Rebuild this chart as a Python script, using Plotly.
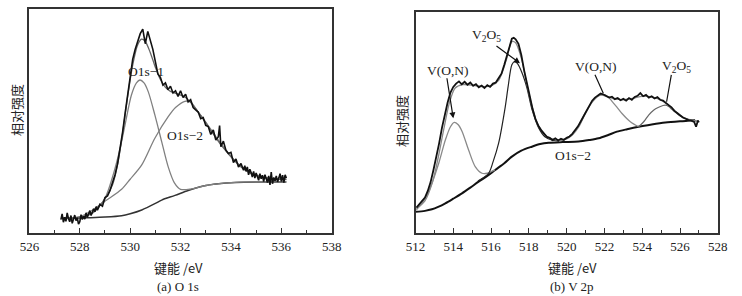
import plotly.graph_objects as go

# ---------------- Panel (a) O 1s ----------------
a_raw_ev = [527.25, 527.3, 527.35, 527.4, 527.45, 527.5, 527.55, 527.6, 527.65, 527.7, 527.75, 527.8, 527.85,
            527.9, 527.95, 528.0, 528.05, 528.1, 528.15, 528.2, 528.25, 528.3, 528.35, 528.4, 528.45, 528.5,
            528.55, 528.6, 528.65, 528.7,
            528.8, 528.9, 529.0, 529.1, 529.2, 529.3, 529.4, 529.5, 529.6, 529.7, 529.8, 529.9, 530.0,
            530.1, 530.2, 530.3, 530.4, 530.5, 530.6, 530.7, 530.8, 530.9, 531.0, 531.1, 531.2, 531.3, 531.4,
            531.5, 531.6, 531.7, 531.8, 531.9, 532.0, 532.1, 532.2, 532.3, 532.4, 532.5, 532.6, 532.7, 532.8,
            532.9, 533.0, 533.1, 533.2, 533.3, 533.4, 533.5, 533.55, 533.6, 533.7, 533.8, 533.9, 534.0, 534.1,
            534.2, 534.3, 534.4,
            534.5, 534.55, 534.6, 534.65, 534.7, 534.75, 534.8, 534.85, 534.9, 534.95, 535.0, 535.05, 535.1,
            535.15, 535.2, 535.25, 535.3, 535.35, 535.4, 535.45, 535.5, 535.55, 535.6, 535.65, 535.7, 535.75,
            535.8, 535.85, 535.9, 535.95, 536.0, 536.05, 536.1, 536.15, 536.2]
a_raw_int = [6.0, 8.5, 4.8, 7.0, 5.2, 9.0, 6.5, 5.0, 7.8, 4.3, 6.2, 8.0, 5.5,
             6.8, 4.0, 5.0, 8.2, 6.0, 7.5, 6.2, 9.0, 7.0, 8.5, 10.0, 7.8, 9.2,
             10.8, 9.5, 11.8, 10.2,
             12.8, 12.0, 15.8, 16.5, 19.0, 22.5, 26.0, 31.0, 37.5, 45.0, 53.5, 62.0, 70.0,
             77.5, 82.0, 85.5, 89.0, 91.0, 84.5, 90.0, 86.0, 82.0, 76.5, 71.0, 69.5, 66.0, 67.0,
             64.0, 65.5, 62.5, 63.5, 61.0, 63.5, 60.5, 62.0, 58.5, 59.5, 56.0, 55.0, 54.0, 51.0,
             51.5, 48.0, 47.5, 44.0, 46.0, 41.5, 43.0, 48.0, 38.5, 41.0, 37.0, 35.5, 36.0, 31.5,
             33.0, 29.5, 31.0,
             28.0, 30.0, 27.5, 29.5, 26.0, 28.5, 27.0, 25.0, 27.5, 24.5, 26.8, 25.0, 23.5,
             26.5, 24.2, 25.8, 23.0, 26.0, 24.5, 22.5, 25.5, 21.5, 27.2, 22.0, 24.8, 23.2,
             25.5, 22.8, 24.5, 26.5, 23.0, 25.8, 22.5, 26.0, 24.5]

a_fit_ev = [527.3, 528.0, 528.5, 529.0, 529.3, 529.5, 529.7, 529.9, 530.1, 530.3, 530.45, 530.6, 530.8,
            531.0, 531.2, 531.4, 531.6, 531.9, 532.2, 532.5, 532.8, 533.1, 533.4, 533.7, 534.0, 534.4,
            534.8, 535.2, 535.7, 536.2]
a_fit_int = [6.6, 7.0, 9.0, 15.2, 21.5, 30.5, 44.5, 61.0, 75.0, 84.0, 86.5, 85.5, 80.5,
             74.0, 68.5, 65.0, 63.2, 62.0, 60.5, 57.0, 52.5, 47.5, 42.5, 38.0, 34.0, 29.5,
             26.5, 25.0, 24.2, 24.0]

a_p1_ev = [527.3, 528.0, 528.5, 529.0, 529.3, 529.6, 529.8, 530.05, 530.25, 530.39, 530.55, 530.72, 530.98,
           531.25, 531.51, 531.75, 532.0, 532.4, 533.0, 534.0, 535.0, 536.2]
a_p1_int = [6.6, 7.0, 8.8, 15.5, 25.0, 37.8, 48.5, 61.6, 67.0, 68.3, 67.0, 63.0, 52.7,
            40.8, 29.5, 22.5, 19.5, 19.6, 21.2, 22.5, 22.8, 22.8]

a_p2_ev = [527.3, 528.0, 528.4, 529.07, 529.66, 530.0, 530.46, 530.98, 531.51, 531.8, 532.17, 532.4, 532.7,
           533.0, 533.4, 533.8, 534.2, 534.6, 535.0, 535.5, 536.2]
a_p2_int = [6.6, 7.3, 9.5, 14.7, 19.5, 24.0, 30.4, 42.3, 51.9, 56.0, 58.8, 58.5, 54.0,
            49.5, 43.0, 37.0, 31.8, 28.0, 26.0, 24.5, 23.8]

a_bg_ev = [527.3, 528.3, 529.0, 529.66, 530.0, 530.46, 531.0, 531.25, 531.78, 532.3, 532.9, 533.5, 534.2,
           535.0, 536.2]
a_bg_int = [6.5, 6.8, 7.1, 7.7, 8.6, 10.3, 13.2, 14.7, 16.8, 19.0, 21.0, 22.0, 22.6, 22.8, 22.8]

# ---------------- Panel (b) V 2p ----------------
b_raw_ev = [512.05, 512.2, 512.35, 512.5, 512.65, 512.8, 512.95, 513.1, 513.25, 513.4, 513.55, 513.7, 513.85,
            514.0, 514.15, 514.3, 514.45, 514.6, 514.75, 514.9, 515.05, 515.2, 515.35, 515.5, 515.65, 515.8,
            515.95, 516.1, 516.25, 516.4, 516.55, 516.7, 516.85, 517.0, 517.1, 517.2, 517.3, 517.45, 517.6,
            517.75, 517.9, 518.05, 518.2, 518.35, 518.5, 518.65, 518.8, 518.95, 519.1, 519.25, 519.4, 519.55,
            519.7, 519.85, 520.0, 520.15, 520.3, 520.45, 520.6, 520.75, 520.9, 521.05, 521.2, 521.35, 521.5,
            521.65, 521.8, 521.95, 522.1, 522.25, 522.4, 522.55, 522.7, 522.85, 523.0, 523.15, 523.3, 523.45,
            523.6, 523.75, 523.9, 524.05, 524.2, 524.35, 524.5, 524.65, 524.8, 524.95, 525.1, 525.25, 525.4,
            525.55, 525.7, 525.85, 526.0, 526.15, 526.3, 526.45, 526.6, 526.75, 526.85, 526.95, 527.0]
b_raw_int = [11.5, 13.0, 14.5, 16.0, 19.0, 23.0, 28.5, 34.0, 40.5, 47.5, 53.5, 59.0, 63.5,
             66.0, 67.5, 68.5, 67.2, 68.3, 67.0, 68.0, 66.5, 67.3, 65.8, 66.6, 65.5, 66.8,
             66.0, 67.5, 68.0, 69.8, 72.0, 76.0, 80.5, 85.0, 87.8, 88.2, 87.5, 85.5, 80.5,
             73.5, 67.5, 61.0, 56.0, 51.5, 48.5, 46.5, 44.8, 43.5, 43.0, 42.0, 42.8, 41.8,
             42.6, 42.0, 43.0, 43.6, 44.8, 46.5, 48.2, 50.5, 53.0, 55.5, 58.0, 59.8, 61.2,
             62.0, 63.0, 62.6, 62.0, 61.2, 61.6, 60.5, 61.0, 60.0, 60.6, 59.8, 61.0, 60.2,
             61.5, 62.0, 63.2, 61.8, 62.4, 61.2, 61.8, 60.8, 61.4, 60.2, 59.8, 59.0, 57.8,
             56.8, 55.2, 54.2, 53.0, 52.2, 51.6, 51.0, 50.8, 50.2, 48.0, 50.8, 50.0]

b_fit_ev = [512.05, 512.5, 512.9, 513.2, 513.5, 513.8, 514.1, 514.5, 515.0, 515.5, 516.0, 516.4, 516.8,
            517.1, 517.3, 517.6, 517.9, 518.2, 518.5, 518.9, 519.3, 519.8, 520.2, 520.6, 521.0, 521.4,
            521.8, 522.2, 522.6, 523.0, 523.5, 524.0, 524.5, 525.0, 525.5, 526.0, 526.5, 527.0]
b_fit_int = [11.0, 14.5, 23.0, 34.0, 47.0, 59.0, 65.5, 67.0, 66.8, 66.2, 66.5, 69.0, 78.0,
             86.5, 86.0, 79.0, 67.0, 56.0, 48.5, 44.0, 42.3, 42.3, 43.8, 48.0, 54.5, 59.8,
             62.3, 61.5, 60.5, 60.3, 60.8, 61.8, 61.5, 60.0, 57.0, 53.2, 51.0, 50.5]

b_von1_ev = [512.05, 512.34, 512.6, 512.87, 513.23, 513.58, 513.85, 514.05, 514.25, 514.46, 514.81, 515.16,
             515.52, 515.8, 516.2]
b_von1_int = [10.5, 13.4, 17.0, 22.5, 31.5, 42.0, 48.0, 50.0, 49.0, 46.0, 37.5, 30.0,
              27.0, 27.0, 28.5]

b_vo1_ev = [515.3, 515.87, 516.1, 516.4, 516.75, 516.9, 517.1, 517.25, 517.4, 517.63, 517.9, 518.16,
            518.52, 518.85, 519.2, 519.6]
b_vo1_int = [23.5, 27.0, 32.0, 40.6, 57.0, 66.0, 76.0, 77.5, 76.5, 72.5, 65.5, 56.0,
             47.5, 43.5, 42.0, 41.5]

b_von2_ev = [519.6, 520.0, 520.3, 520.63, 520.98, 521.34, 521.69, 521.95, 522.2, 522.4, 522.65, 522.93,
             523.37, 523.81]
b_von2_int = [41.5, 42.5, 44.3, 47.8, 53.8, 59.0, 62.0, 62.6, 61.5, 59.5, 57.0, 54.0, 50.3, 48.0]

b_vo2_ev = [523.81, 524.1, 524.34, 524.6, 524.87, 525.1, 525.22, 525.4, 525.57, 525.8, 526.01, 526.3,
            526.63, 526.95]
b_vo2_int = [48.0, 50.5, 53.3, 55.5, 56.8, 57.6, 57.8, 57.2, 55.9, 54.3, 52.9, 51.8, 51.0, 50.6]

b_bg_ev = [512.0, 512.5, 512.87, 513.2, 513.58, 514.0, 514.46, 514.9, 515.34, 515.8, 516.22, 516.7, 517.1,
           517.6, 518.16, 518.6, 519.05, 519.8, 520.63, 521.2, 521.69, 522.2, 522.66, 523.2, 523.81,
           524.5, 525.22, 526.0, 526.8]
b_bg_int = [9.6, 10.0, 10.7, 11.8, 13.4, 15.5, 17.9, 20.5, 23.2, 25.8, 28.5, 31.5, 34.5,
            37.2, 39.0, 40.2, 40.8, 41.1, 41.3, 42.0, 42.8, 44.3, 45.8, 46.9, 48.0,
            49.0, 49.9, 50.5, 51.0]

a_ticks = [526, 528, 530, 532, 534, 536, 538]
b_ticks = [512, 514, 516, 518, 520, 522, 524, 526, 528]

W, H = 742, 296
SERIF = "Liberation Serif, Times New Roman, serif"
CJK = "Noto Sans CJK SC, sans-serif"
TXT = "#222222"


def px(x):
    return x / W


def py(y):
    return 1 - y / H


fig = go.Figure()


def smooth(x, y, xa, ya, color, width):
    fig.add_trace(go.Scatter(x=x, y=y, xaxis=xa, yaxis=ya, mode="lines",
                             line=dict(color=color, width=width, shape="spline", smoothing=0.8),
                             hoverinfo="skip", showlegend=False))


def raw(x, y, xa, ya, width):
    fig.add_trace(go.Scatter(x=x, y=y, xaxis=xa, yaxis=ya, mode="lines",
                             line=dict(color="#111111", width=width),
                             hoverinfo="skip", showlegend=False))


# panel a
smooth(a_bg_ev, a_bg_int, "x", "y", "#333333", 1.5)
smooth(a_p1_ev, a_p1_int, "x", "y", "#808080", 1.3)
smooth(a_p2_ev, a_p2_int, "x", "y", "#808080", 1.3)
smooth(a_fit_ev, a_fit_int, "x", "y", "#666666", 1.3)
raw(a_raw_ev, a_raw_int, "x", "y", 1.6)

# panel b
smooth(b_bg_ev, b_bg_int, "x2", "y2", "#111111", 2.0)
smooth(b_von1_ev, b_von1_int, "x2", "y2", "#8a8a8a", 1.3)
smooth(b_vo1_ev, b_vo1_int, "x2", "y2", "#222222", 1.2)
smooth(b_von2_ev, b_von2_int, "x2", "y2", "#8a8a8a", 1.3)
smooth(b_vo2_ev, b_vo2_int, "x2", "y2", "#666666", 1.2)
smooth(b_fit_ev, b_fit_int, "x2", "y2", "#888888", 1.3)
raw(b_raw_ev, b_raw_int, "x2", "y2", 1.8)

xcommon = dict(showgrid=False, zeroline=False, showline=True, mirror=True, linecolor="#333333",
               linewidth=1.5, ticks="inside", ticklen=5, tickwidth=1.2, tickcolor="#333333",
               ticklabelstandoff=1, automargin=False,
               tickfont=dict(family=SERIF, size=13, color=TXT),
               minor=dict(ticks="inside", ticklen=3, tickwidth=1.2, tickcolor="#333333", dtick=1, showgrid=False))
ycommon = dict(showgrid=False, zeroline=False, showline=True, mirror=True, linecolor="#333333",
               linewidth=1.5, ticks="", showticklabels=False, range=[0, 100], fixedrange=True,
               automargin=False)

fig.update_layout(
    width=W, height=H,
    margin=dict(l=0, r=0, t=0, b=0, pad=0),
    paper_bgcolor="white", plot_bgcolor="white",
    showlegend=False,
    xaxis=dict(domain=[px(29.4), px(331.7)], range=[526, 538], tickvals=a_ticks, anchor="y", **xcommon),
    yaxis=dict(domain=[py(233), py(9)], anchor="x", **ycommon),
    xaxis2=dict(domain=[px(415.5), px(717.8)], range=[512, 528], tickvals=b_ticks, anchor="y2", **xcommon),
    yaxis2=dict(domain=[py(233), py(11.7)], anchor="x2", **ycommon),
)

anns = []


def label(x, y, text, family=SERIF, size=13, angle=0):
    anns.append(dict(x=px(x), y=py(y), xref="paper", yref="paper", text=text, showarrow=False,
                     textangle=angle, xanchor="center", yanchor="middle",
                     font=dict(family=family, size=size, color=TXT)))


# axis titles and captions
label(16, 110, "相对强度", CJK, 13, -90)
label(401, 121, "相对强度", CJK, 13, -90)
label(178, 267, "键能 /eV", CJK, 13)
label(572, 267, "键能 /eV", CJK, 13)
label(178, 286, "(a) O 1s", SERIF, 13)
label(572, 286, "(b) V 2p", SERIF, 13)

# peak labels
label(146, 72, "O1s−1", size=13.5)
label(185, 135, "O1s−2", size=13.5)
label(448, 70, "V(O,N)", size=13.5)
label(487, 36, "V<sub>2</sub>O<sub>5</sub>", size=13.5)
label(596, 67, "V(O,N)", size=13.5)
label(676, 67, "V<sub>2</sub>O<sub>5</sub>", size=13.5)
label(573, 156, "O1s−2", size=13.5)


def pointer(x, y, ax, ay, head):
    anns.append(dict(x=x, y=y, xref="x2", yref="y2", ax=ax, ay=ay, axref="pixel", ayref="pixel",
                     text="", showarrow=True, arrowhead=head, arrowsize=1, arrowwidth=1.2,
                     arrowcolor="#111111", standoff=0, startstandoff=0))


pointer(514.0, 51.8, -6.6, -41.6, 2)
pointer(517.53, 76.7, -25, -18.3, 2)
pointer(521.94, 63.1, -9, -20, 0)
pointer(525.29, 59.3, 5, -28.4, 0)

fig.update_layout(annotations=anns)

fig.write_html("out.html", config={"displayModeBar": False},
               post_script="document.body.style.margin='0';document.body.style.overflow='hidden';")
